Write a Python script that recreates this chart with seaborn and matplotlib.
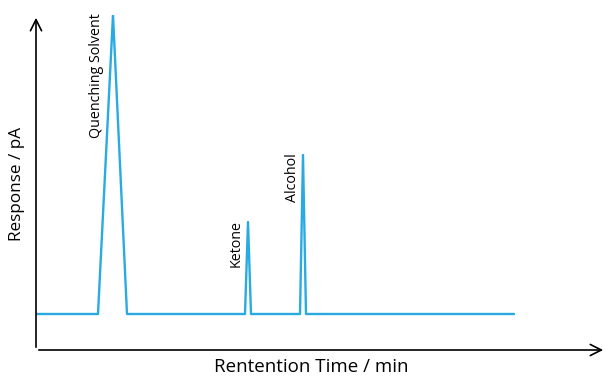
import matplotlib
matplotlib.use("Agg")
import matplotlib.pyplot as plt
import seaborn as sns
import pandas as pd

# Chromatogram trace (arbitrary units)
time = [0, 62, 77, 91, 209, 212, 215, 264, 267, 270, 478]
response = [36, 36, 335, 36, 36, 128, 36, 36, 195, 36, 36]
peak_names = ["Quenching Solvent", "Ketone", "Alcohol"]
peak_times = [77, 212, 267]
peak_heights = [335, 128, 195]
label_gap = [9, 4, 3]  # horizontal gap between label and peak apex

sns.set_theme(style="white")
plt.rcParams["font.family"] = ["Open Sans", "DejaVu Sans"]

fig = plt.figure(figsize=(6.08, 3.76), dpi=100)
ax = fig.add_axes([36 / 608, 26 / 376, 570 / 608, 335 / 376])
df = pd.DataFrame({"time": time, "response": response})
sns.lineplot(data=df, x="time", y="response", ax=ax, color="#29abe2", linewidth=1.7)

ax.set_xlim(0, 570)
ax.set_ylim(0, 335)
for s in ax.spines.values():
    s.set_visible(False)
ax.set_xticks([])
ax.set_yticks([])
ax.set_xlabel("")
ax.set_ylabel("")

# arrows for axes
ax.annotate("", xy=(570, 0), xytext=(0, 0), xycoords="data",
            arrowprops=dict(arrowstyle="->", color="black", lw=1.2, mutation_scale=20),
            annotation_clip=False)
ax.annotate("", xy=(0, 335), xytext=(0, 0), xycoords="data",
            arrowprops=dict(arrowstyle="->", color="black", lw=1.2, mutation_scale=20),
            annotation_clip=False)

for name, t, h, g in zip(peak_names, peak_times, peak_heights, label_gap):
    ax.text(t - g, h + 2, name, rotation=90, ha="right", va="top", fontsize=10.3, color="black")

fig.text(311 / 608, 9 / 376, "Rentention Time / min", ha="center", va="center",
         fontsize=13.5, color="black")
fig.text(17 / 608, 192 / 376, "Response / pA", ha="center", va="center", rotation=90,
         fontsize=12.3, color="black")

fig.savefig("out.png", dpi=100)
